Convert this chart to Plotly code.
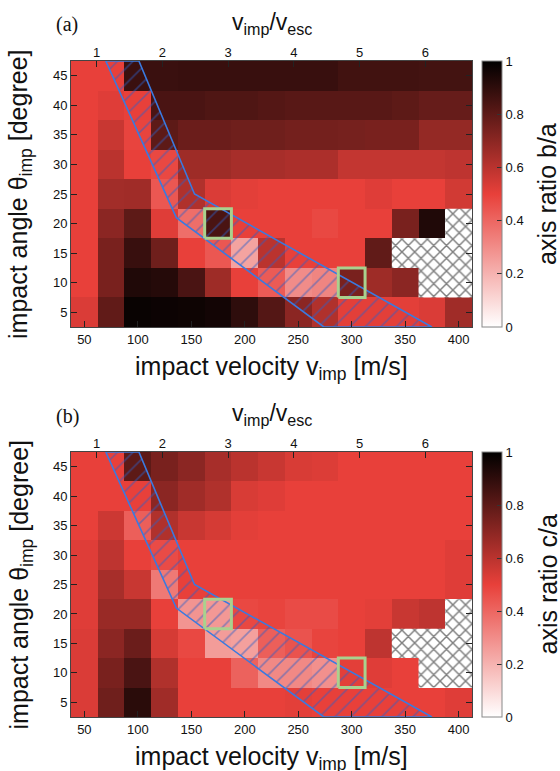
import plotly.graph_objects as go

# Grid of impact velocities [m/s] and impact angles [degree]
velocities = [50, 75, 100, 125, 150, 175, 200, 225, 250, 275, 300, 325, 350, 375, 400]
angles = [5, 10, 15, 20, 25, 30, 35, 40, 45]
v_esc = 61.5  # escape velocity [m/s] for the top axis

# axis ratio b/a (rows: angle 5..45, columns: velocity 50..400); None = no data
ratio_ba = [
    [0.53, 0.79, 0.98, 0.975, 0.97, 0.96, 0.90, 0.82, 0.70, 0.62, 0.51, 0.51, 0.51, 0.53, 0.655],
    [0.50, 0.74, 0.93, 0.92, 0.84, 0.66, 0.50, 0.43, 0.30, 0.32, 0.74, 0.66, 0.70, None, None],
    [0.50, 0.74, 0.88, 0.76, 0.50, 0.44, 0.24, 0.60, 0.50, 0.50, 0.50, 0.79, None, None, None],
    [0.50, 0.70, 0.80, 0.52, 0.38, 0.84, 0.50, 0.50, 0.50, 0.48, 0.50, 0.50, 0.74, 0.93, None],
    [0.50, 0.65, 0.655, 0.44, 0.62, 0.53, 0.51, 0.50, 0.50, 0.50, 0.50, 0.52, 0.50, 0.50, 0.55],
    [0.50, 0.60, 0.50, 0.48, 0.66, 0.66, 0.64, 0.64, 0.63, 0.63, 0.58, 0.58, 0.58, 0.58, 0.59],
    [0.50, 0.57, 0.49, 0.80, 0.77, 0.77, 0.76, 0.76, 0.75, 0.75, 0.745, 0.74, 0.74, 0.68, 0.68],
    [0.50, 0.52, 0.50, 0.84, 0.84, 0.83, 0.83, 0.82, 0.81, 0.81, 0.81, 0.81, 0.80, 0.78, 0.78],
    [0.50, 0.50, 0.875, 0.875, 0.88, 0.88, 0.88, 0.88, 0.88, 0.88, 0.86, 0.86, 0.86, 0.855, 0.855],
]

# axis ratio c/a
ratio_ca = [
    [0.53, 0.76, 0.91, 0.655, 0.50, 0.50, 0.50, 0.50, 0.51, 0.50, 0.50, 0.50, 0.50, 0.50, 0.52],
    [0.53, 0.74, 0.84, 0.62, 0.50, 0.50, 0.41, 0.31, 0.31, 0.29, 0.51, 0.52, 0.50, None, None],
    [0.53, 0.70, 0.77, 0.54, 0.48, 0.26, 0.25, 0.42, 0.45, 0.49, 0.50, 0.59, None, None, None],
    [0.52, 0.67, 0.67, 0.50, 0.28, 0.27, 0.48, 0.49, 0.47, 0.47, 0.50, 0.51, 0.57, 0.59, None],
    [0.52, 0.64, 0.57, 0.35, 0.50, 0.50, 0.50, 0.50, 0.50, 0.50, 0.50, 0.50, 0.50, 0.50, 0.52],
    [0.52, 0.59, 0.50, 0.47, 0.50, 0.50, 0.50, 0.50, 0.50, 0.50, 0.50, 0.50, 0.50, 0.50, 0.52],
    [0.50, 0.56, 0.42, 0.62, 0.57, 0.54, 0.51, 0.50, 0.50, 0.50, 0.50, 0.50, 0.50, 0.50, 0.50],
    [0.50, 0.50, 0.50, 0.70, 0.655, 0.62, 0.535, 0.52, 0.50, 0.50, 0.50, 0.50, 0.50, 0.50, 0.50],
    [0.50, 0.50, 0.80, 0.74, 0.70, 0.64, 0.60, 0.57, 0.535, 0.525, 0.50, 0.50, 0.50, 0.50, 0.50],
]

# transition band (velocity, angle) vertices
band_v = [70, 101, 153, 375, 274, 136, 70]
band_theta = [47.5, 47.5, 25, 2.5, 2.5, 21, 47.5]

# highlighted simulation cells
mark_v = [175, 300]
mark_theta = [20, 10]

cbar_ticks = [0, 0.2, 0.4, 0.6, 0.8, 1]
top_ticks = [1, 2, 3, 4, 5, 6]

W, H = 560, 771
FONT = "Liberation Sans, Arial, sans-serif"
colorscale = [[0.0, "#ffffff"], [0.5, "#e8403a"], [1.0, "#000000"]]

dv = velocities[1] - velocities[0]
dt = angles[1] - angles[0]
xr = [velocities[0] - dv / 2, velocities[-1] + dv / 2]
yr = [angles[0] - dt / 2, angles[-1] + dt / 2]

# panel pixel boxes: (left, top, right, bottom)
panels = [
    dict(box=(71, 61, 472, 327), z=ratio_ba, label="(a)", cb="axis ratio b/a"),
    dict(box=(71, 452, 472, 717), z=ratio_ca, label="(b)", cb="axis ratio c/a"),
]

fig = go.Figure()
annotations = []


def px(x):
    return x / W


def py(y):
    return 1 - y / H


for k, p in enumerate(panels):
    l, t, r, b = p["box"]
    sfx = "" if k == 0 else str(k * 2 + 1)
    sfx_top = str(k * 2 + 2)
    xa, ya, xa_top = "x" + sfx, "y" + sfx, "x" + sfx_top
    xkey = "xaxis" + sfx
    ykey = "yaxis" + sfx
    xtkey = "xaxis" + sfx_top

    fig.add_trace(go.Heatmap(
        x=velocities, y=angles, z=p["z"], zmin=0, zmax=1,
        colorscale=colorscale, xaxis=xa, yaxis=ya, hoverongaps=False,
        colorbar=dict(
            x=px(482), xanchor="left", y=py((t + b) / 2), yanchor="middle",
            len=(b - t) / H, lenmode="fraction", thickness=20,
            outlinecolor="#888", outlinewidth=1, xpad=0, ypad=0,
            tickvals=cbar_ticks, ticktext=[f"{v:g}" for v in cbar_ticks],
            ticks="inside", ticklen=5, tickcolor="#333",
            tickfont=dict(family=FONT, size=13, color="#111"),
        ),
    ))

    # cross-hatched cells where no data exists
    hx, hy = [], []
    for i, th in enumerate(angles):
        for j, v in enumerate(velocities):
            if p["z"][i][j] is None:
                x0, x1 = v - dv / 2, v + dv / 2
                y0, y1 = th - dt / 2, th + dt / 2
                hx += [x0, x1, x1, x0, x0, None]
                hy += [y0, y0, y1, y1, y0, None]
    fig.add_trace(go.Scatter(
        x=hx, y=hy, mode="lines", fill="toself", xaxis=xa, yaxis=ya,
        line=dict(width=0, color="rgba(0,0,0,0)"), fillcolor="white",
        fillpattern=dict(shape="x", fgcolor="#000", bgcolor="white", size=9, solidity=0.3),
        showlegend=False, hoverinfo="skip",
    ))

    # hatched transition band
    fig.add_trace(go.Scatter(
        x=band_v, y=band_theta, mode="lines", fill="toself", xaxis=xa, yaxis=ya,
        line=dict(width=1.6, color="#3a7ae0"), fillcolor="rgba(0,0,0,0)",
        fillpattern=dict(shape="/", fgcolor="#2c5fc8", bgcolor="rgba(0,0,0,0)",
                         size=11, solidity=0.15),
        showlegend=False, hoverinfo="skip", cliponaxis=True,
    ))

    # highlighted cells
    for v, th in zip(mark_v, mark_theta):
        x0, x1 = v - dv / 2, v + dv / 2
        y0, y1 = th - dt / 2, th + dt / 2
        fig.add_trace(go.Scatter(
            x=[x0, x1, x1, x0, x0], y=[y0, y0, y1, y1, y0], mode="lines",
            xaxis=xa, yaxis=ya, line=dict(width=3, color="#a9d18e"),
            showlegend=False, hoverinfo="skip",
        ))

    # invisible trace to carry the top axis
    fig.add_trace(go.Scatter(x=[xr[0] / v_esc], y=[yr[0]], xaxis=xa_top, yaxis=ya,
                             mode="markers", marker=dict(opacity=0), showlegend=False,
                             hoverinfo="skip"))

    dom_x = [px(l), px(r)]
    dom_y = [py(b), py(t)]
    fig.layout[xkey] = dict(
        domain=dom_x, anchor=ya, range=xr, tickvals=velocities[::2],
        ticks="inside", ticklen=6, tickcolor="#222", showline=True, mirror=True,
        linecolor="#444", linewidth=1, showgrid=False, zeroline=False,
        tickfont=dict(family=FONT, size=13, color="#111"),
    )
    fig.layout[xtkey] = dict(
        overlaying=xa, anchor=ya, side="top", range=[xr[0] / v_esc, xr[1] / v_esc],
        tickvals=top_ticks, ticks="inside", ticklen=6, tickcolor="#222",
        showline=False, showgrid=False, zeroline=False,
        tickfont=dict(family=FONT, size=13, color="#111"),
    )
    fig.layout[ykey] = dict(
        domain=dom_y, anchor=xa, range=yr, tickvals=angles,
        ticks="inside", ticklen=6, tickcolor="#222", showline=True, mirror="ticks",
        linecolor="#444", linewidth=1, showgrid=False, zeroline=False,
        tickfont=dict(family=FONT, size=13, color="#111"),
    )

    cy = (t + b) / 2
    annotations += [
        dict(text=p["label"], x=px(67), y=py(t - 36), xanchor="center", yanchor="middle",
             font=dict(family="Liberation Serif, Times New Roman, serif", size=20, color="#111")),
        dict(text="v<sub>imp</sub>/v<sub>esc</sub>", x=px((l + r) / 2), y=py(t - 38),
             xanchor="center", yanchor="middle",
             font=dict(family=FONT, size=23, color="#111")),
        dict(text="impact velocity v<sub>imp</sub> [m/s]", x=px((l + r) / 2), y=py(b + 41),
             xanchor="center", yanchor="middle",
             font=dict(family=FONT, size=25, color="#111")),
        dict(text="impact angle θ<sub>imp</sub> [degree]", x=px(20), y=py(cy),
             textangle=-90, xanchor="center", yanchor="middle",
             font=dict(family=FONT, size=25, color="#111")),
        dict(text=p["cb"], x=px(547), y=py(cy), textangle=-90,
             xanchor="center", yanchor="middle",
             font=dict(family=FONT, size=25, color="#111")),
    ]

for a in annotations:
    a.update(xref="paper", yref="paper", showarrow=False)

fig.update_layout(
    width=W, height=H, margin=dict(l=0, r=0, t=0, b=0),
    paper_bgcolor="white", plot_bgcolor="white",
    annotations=annotations, showlegend=False,
)

fig.write_html("out.html")
